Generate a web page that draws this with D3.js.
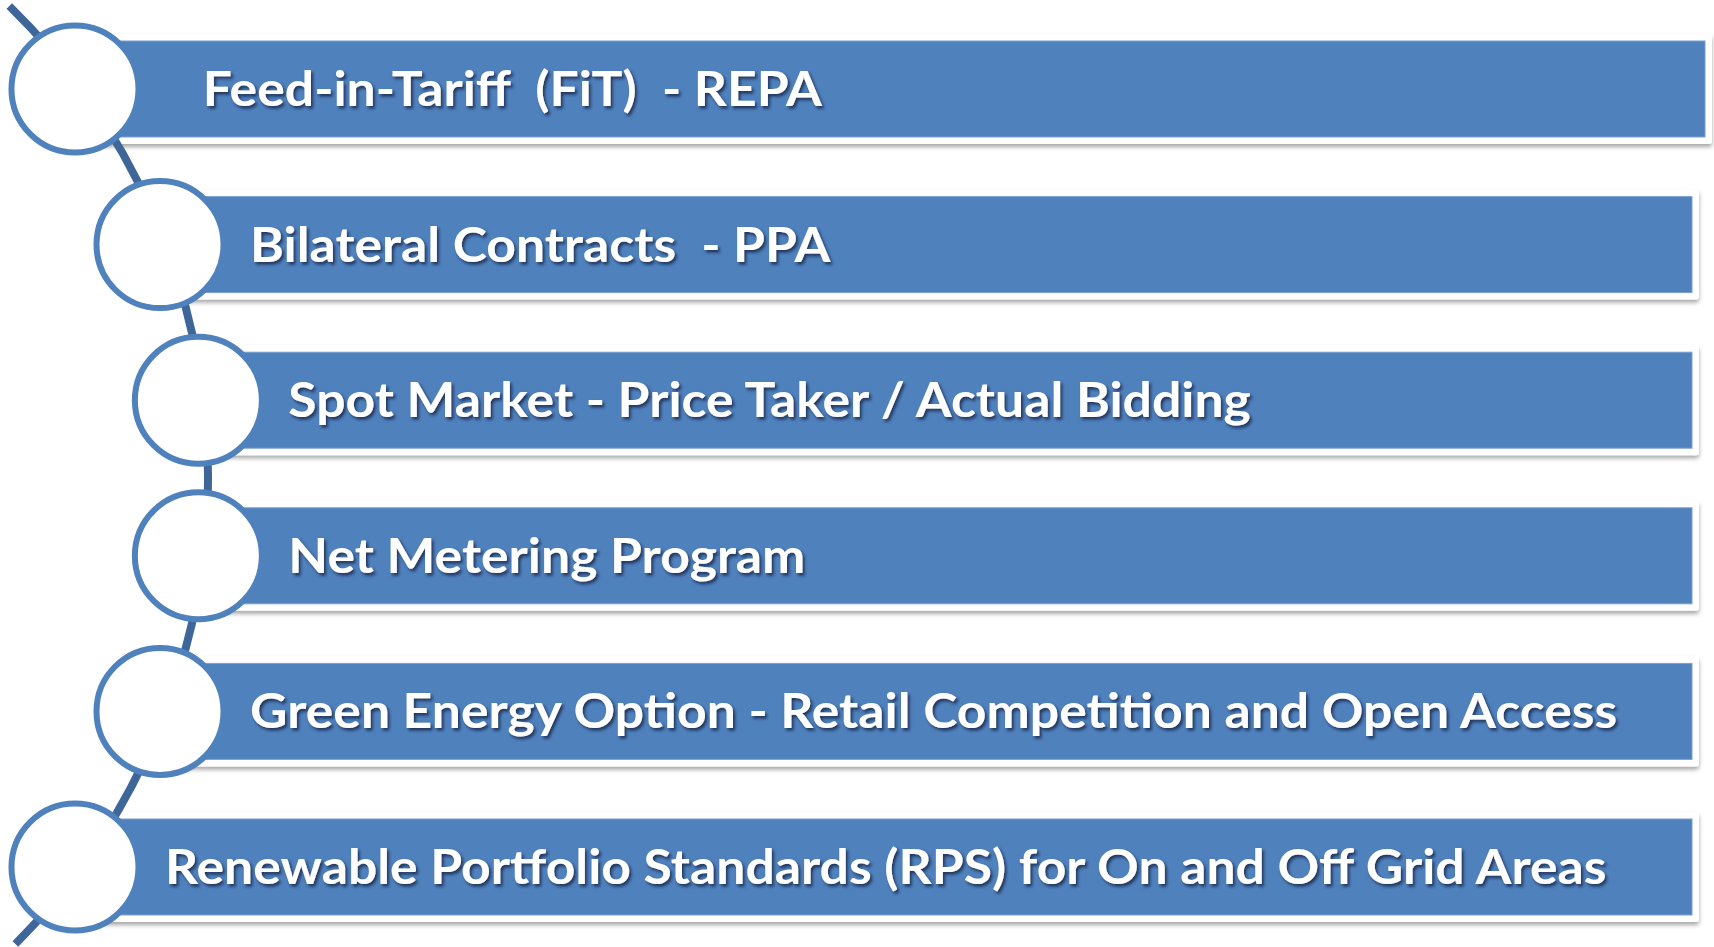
<!DOCTYPE html>
<html lang="en">
<head>
<meta charset="UTF-8">
<title>Renewable energy mechanisms</title>
<style>
  body { margin: 0; background: #fff; }
  svg { display: block; }
  .label { white-space: pre; }
</style>
</head>
<body>
<svg id="chart" width="1714" height="947"></svg>
<script src="https://d3js.org/d3.v7.min.js"></script>
<script>
  // list items, top to bottom
  const labels = [
    "   Feed-in-Tariff  (FiT)  - REPA",
    "Bilateral Contracts  - PPA",
    "Spot Market - Price Taker / Actual Bidding",
    "Net Metering Program",
    "Green Energy Option - Retail Competition and Open Access",
    "Renewable Portfolio Standards (RPS) for On and Off Grid Areas"
  ];
  const rows = d3.range(labels.length);

  const svg = d3.select('#chart');
  const width = +svg.attr('width');
  const height = +svg.attr('height');

  const blue = '#4f81bd';
  const darkBlue = '#3e6699';

  // row centers
  const y = d3.scaleLinear().domain([0, labels.length - 1]).range([89, 867]);

  // circles and connector sit on a big arc whose center is off to the left
  const arcCx = -452, arcCy = 478;
  const lineR = 660, circleR = 655;
  const onArc = (r, yy) => arcCx + Math.sqrt(r * r - (yy - arcCy) * (yy - arcCy));

  const defs = svg.append('defs');
  const frameShadow = defs.append('filter').attr('id', 'frameShadow')
    .attr('x', '-5%').attr('y', '-30%').attr('width', '110%').attr('height', '160%');
  frameShadow.append('feDropShadow')
    .attr('dx', 0).attr('dy', 3).attr('stdDeviation', 2.2)
    .attr('flood-color', '#000').attr('flood-opacity', 0.35);

  const textShadow = defs.append('filter').attr('id', 'textShadow')
    .attr('x', '-5%').attr('y', '-30%').attr('width', '110%').attr('height', '160%');
  textShadow.append('feDropShadow')
    .attr('dx', 2).attr('dy', 2.5).attr('stdDeviation', 1.4)
    .attr('flood-color', '#0b1f3a').attr('flood-opacity', 0.75);

  const barH = 96, pad = 7;
  const barRight = i => i === 0 ? 1705 : 1692; // first bar runs a bit longer

  // bars: white frame with soft shadow, then the blue fill
  const bars = svg.append('g').selectAll('g').data(rows).join('g');
  bars.append('rect')
    .attr('x', i => onArc(circleR, y(i)))
    .attr('y', i => y(i) - barH / 2 - pad)
    .attr('width', i => barRight(i) + pad - onArc(circleR, y(i)))
    .attr('height', barH + pad * 2)
    .attr('rx', 3)
    .attr('fill', '#fff')
    .attr('filter', 'url(#frameShadow)');
  bars.append('rect')
    .attr('x', i => onArc(circleR, y(i)))
    .attr('y', i => y(i) - barH / 2)
    .attr('width', i => barRight(i) - onArc(circleR, y(i)))
    .attr('height', barH)
    .attr('fill', blue)
    .attr('stroke', '#7a9fd0')
    .attr('stroke-width', 1);

  // connector line
  const a0 = Math.asin((6 - arcCy) / lineR);
  const a1 = Math.asin((944 - arcCy) / lineR);
  const p = d3.path();
  p.arc(arcCx, arcCy, lineR, a0, a1);
  svg.append('path')
    .attr('d', p.toString())
    .attr('fill', 'none')
    .attr('stroke', darkBlue)
    .attr('stroke-width', 8);

  // circles
  svg.append('g').selectAll('circle').data(rows).join('circle')
    .attr('cx', i => onArc(circleR, y(i)))
    .attr('cy', i => y(i))
    .attr('r', 63.5)
    .attr('fill', '#fff')
    .attr('stroke', blue)
    .attr('stroke-width', 6);

  // labels; the original face is wider than Lato, so stretch a little
  const stretch = 1.1;
  svg.append('g').selectAll('text').data(rows).join('text')
    .attr('class', 'label')
    .attr('x', i => onArc(circleR, y(i)) + 90)
    .attr('y', i => y(i) + 17)
    .attr('fill', '#fff')
    .attr('font-family', 'Lato, sans-serif')
    .attr('font-weight', 'bold')
    .attr('font-size', 47)
    .attr('filter', 'url(#textShadow)')
    .text(i => labels[i])
    .each(function () {
      const len = this.getComputedTextLength();
      d3.select(this)
        .attr('textLength', len * stretch)
        .attr('lengthAdjust', 'spacingAndGlyphs');
    });
</script>
</body>
</html>
